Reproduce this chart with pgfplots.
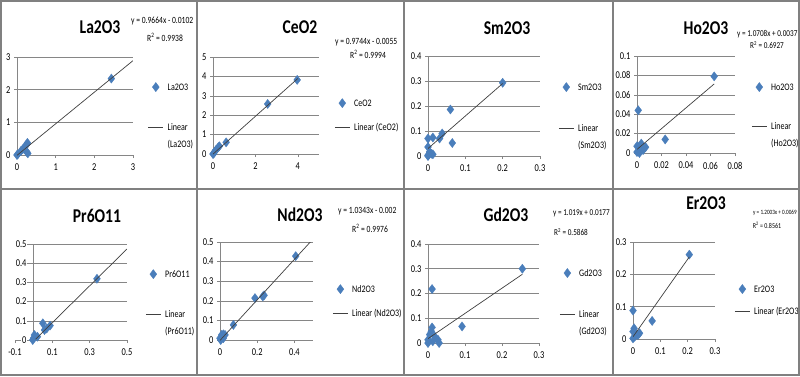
\documentclass[border=0pt]{standalone}
\usepackage{pgfplots}
\pgfplotsset{compat=1.18}
\usepackage{fontspec}
\setmainfont{Carlito}[FakeStretch=0.8]

\definecolor{mk}{HTML}{4A7EBB}
\definecolor{axc}{HTML}{868686}
\definecolor{frm}{HTML}{808080}

\newcommand\LL[1]{{\def\arraystretch{1.4}\begin{tabular}[t]{@{}l@{}}Linear\\#1\end{tabular}}}
\newcommand\Rsq{R\textsuperscript{2}}

\pgfplotsset{
  panel/.style={
    scale only axis, axis lines*=left,
    axis line style={axc, line width=0.8pt},
    ymajorgrids, grid style={axc, line width=0.6pt},
    tick style={axc, line width=0.6pt}, major tick length=3pt, tick align=outside,
    ymin=0, clip mode=individual, scaled ticks=false,
    tick label style={font=\fontsize{10.5}{12}\selectfont},
    xticklabel style={yshift=-2.5pt},
    /pgf/number format/assume math mode=true,
    legend style={draw=none, fill=none, inner sep=0pt, outer sep=0pt, anchor=north west,
      column sep=4pt, font=\fontsize{10}{12}\selectfont, cells={anchor=base west}, nodes={inner sep=0pt}},
  },
  pts/.style={only marks, mark=diamond*, mark size=4.6pt, mark options={fill=mk, draw=mk, line width=0.3pt},
    legend image code/.code={\draw[##1, mark repeat=2, mark phase=2] plot coordinates {(0pt,3.3pt)(7.5pt,3.3pt)(15pt,3.3pt)};}},
  trend/.style={black!75, line width=0.7pt, mark=none,
    legend image code/.code={\draw[##1] (0pt,3.3pt) -- (15pt,3.3pt);}},
}

\begin{document}
\begin{tikzpicture}
\path[use as bounding box, fill=white] (0pt,0pt) rectangle (800pt,-376pt);

% ---------- La2O3
\begin{axis}[panel, at={(17pt,-155pt)}, anchor=south west, width=116pt, height=98pt,
  xmin=0, xmax=3, ymax=3, xtick={0,1,2,3}, xticklabels={0,1,2,3}, ytick={0,1,2,3}, yticklabels={0,1,2,3},
  legend style={at={(axis description cs:1.129,0.740)}, row sep=27pt}]
\addplot[pts] coordinates {(0,0) (0.02,0.02) (0.1,0.12) (0.15,0.18) (0.2,0.25) (0.25,0.32) (0.27,0.37) (0.25,0.1) (0.28,0.05) (2.44,2.34)};
\addlegendentry{La2O3}
\addplot[trend] coordinates {(0,-0.0102) (3,2.889)};
\addlegendentry{\LL{(La2O3)}}
\end{axis}

% ---------- CeO2
\begin{axis}[panel, at={(213pt,-154pt)}, anchor=south west, width=106pt, height=97pt,
  xmin=0, xmax=5, ymax=5, xtick={0,2,4}, xticklabels={0,2,4}, ytick={0,1,2,3,4,5}, yticklabels={0,1,2,3,4,5},
  legend style={at={(axis description cs:1.146,0.572)}, row sep=15.3pt}]
\addplot[pts] coordinates {(0,0) (0.03,0.02) (0.08,0.12) (0.15,0.22) (0.25,0.35) (0.3,0.4) (0.62,0.6) (2.58,2.58) (3.97,3.82)};
\addlegendentry{CeO2}
\addplot[trend] coordinates {(0,-0.0055) (4,3.892)};
\addlegendentry{Linear (CeO2)}
\end{axis}

% ---------- Sm2O3
\begin{axis}[panel, at={(428pt,-156pt)}, anchor=south west, width=112pt, height=100pt,
  xmin=0, xmax=0.3, ymax=0.4, xtick={0,0.1,0.2,0.3}, xticklabels={0,0.1,0.2,0.3},
  ytick={0,0.1,0.2,0.3,0.4}, yticklabels={0,0.1,0.2,0.3,0.4},
  legend style={at={(axis description cs:1.165,0.735)}, row sep=28pt}]
\addplot[pts] coordinates {(0,0) (0,0.003) (0,0.036) (0,0.07) (0.004,0.016) (0.009,0.009) (0.013,0.074) (0.013,0.007) (0.031,0.07) (0.038,0.09) (0.06,0.186) (0.065,0.052) (0.2,0.293)};
\addlegendentry{Sm2O3}
\addplot[trend] coordinates {(0,0.03) (0.2,0.29)};
\addlegendentry{\LL{(Sm2O3)}}
\end{axis}

% ---------- Ho2O3
\begin{axis}[panel, at={(637pt,-153pt)}, anchor=south west, width=98pt, height=97pt,
  xmin=0, xmax=0.08, ymax=0.1, xtick={0,0.02,0.04,0.06,0.08}, xticklabels={0,0.02,0.04,0.06,0.08},
  ytick={0,0.02,0.04,0.06,0.08,0.1}, yticklabels={0,0.02,0.04,0.06,0.08,0.1},
  legend style={at={(axis description cs:1.168,0.727)}, row sep=26pt}]
\addplot[pts] coordinates {(0.001,0.044) (0.063,0.079) (0.023,0.014) (0,0.001) (0.001,0.006) (0.0035,0.0097) (0.005,0.003) (0.007,0.006) (0.002,0) (0,0.007)};
\addlegendentry{Ho2O3}
\addplot[trend] coordinates {(0,0.0037) (0.063,0.0712)};
\addlegendentry{\LL{(Ho2O3)}}
\end{axis}

% ---------- Pr6O11
\begin{axis}[panel, axis x line*=bottom, axis y line*=middle, hide obscured x ticks=false, hide obscured y ticks=false,
  at={(15pt,-340pt)}, anchor=south west, width=112pt, height=96pt,
  xmin=-0.1, xmax=0.5, ymax=0.5, xtick={-0.1,0.1,0.3,0.5}, xticklabels={-0.1,0.1,0.3,0.5},
  ytick={0,0.1,0.2,0.3,0.4,0.5}, yticklabels={0,0.1,0.2,0.3,0.4,0.5},
  yticklabel style={fill=white, inner sep=1pt, xshift=-3pt},
  legend style={at={(axis description cs:1.165,0.734)}, row sep=27pt}]
\addplot[pts] coordinates {(0.339,0.319) (0.049,0.087) (0.058,0.052) (0.088,0.075) (0.07,0.06) (-0.001,0.009) (0.004,0.026) (0.02,0.017) (-0.005,0)};
\addlegendentry{Pr6O11}
\addplot[trend] coordinates {(0.01,0.004) (0.5,0.474)};
\addlegendentry{\LL{(Pr6O11)}}
\end{axis}

% ---------- Nd2O3
\begin{axis}[panel, at={(220pt,-340pt)}, anchor=south west, width=93pt, height=98pt,
  xmin=0, xmax=0.5, ymax=0.5, xtick={0,0.2,0.4}, xticklabels={0,0.2,0.4},
  ytick={0,0.1,0.2,0.3,0.4,0.5}, yticklabels={0,0.1,0.2,0.3,0.4,0.5},
  legend style={at={(axis description cs:1.210,0.566)}, row sep=15.3pt}]
\addplot[pts] coordinates {(0.407,0.428) (0.237,0.228) (0.23,0.222) (0.188,0.214) (0.072,0.077) (0,0.009) (0.009,0.026) (0.018,0.029) (0.027,0.026) (0.004,0) (0.018,0.009)};
\addlegendentry{Nd2O3}
\addplot[trend] coordinates {(0,-0.002) (0.5,0.515)};
\addlegendentry{Linear (Nd2O3)}
\end{axis}

% ---------- Gd2O3
\begin{axis}[panel, at={(428pt,-343pt)}, anchor=south west, width=111pt, height=99pt,
  xmin=0, xmax=0.3, ymax=0.4, xtick={0,0.1,0.2,0.3}, xticklabels={0,0.1,0.2,0.3},
  ytick={0,0.1,0.2,0.3,0.4}, yticklabels={0,0.1,0.2,0.3,0.4},
  legend style={at={(axis description cs:1.185,0.753)}, row sep=28pt}]
\addplot[pts] coordinates {(0.011,0.218) (0.092,0.067) (0.255,0.3) (0,0.013) (0.0045,0.034) (0.011,0.063) (0.009,0.047) (0.018,0.027) (0.027,0.013) (0.03,0) (0.013,0.007) (0,0)};
\addlegendentry{Gd2O3}
\addplot[trend] coordinates {(0,0.0177) (0.255,0.2776)};
\addlegendentry{\LL{(Gd2O3)}}
\end{axis}

% ---------- Er2O3
\begin{axis}[panel, at={(633pt,-339pt)}, anchor=south west, width=82pt, height=97pt,
  xmin=0, xmax=0.3, ymax=0.3, xtick={0,0.1,0.2,0.3}, xticklabels={0,0.1,0.2,0.3},
  ytick={0,0.1,0.2,0.3}, yticklabels={0,0.1,0.2,0.3},
  legend style={at={(axis description cs:1.238,0.562)}, row sep=13.3pt}]
\addplot[pts] coordinates {(0.206,0.261) (0.07,0.056) (0,0.088) (0,0.002) (0.004,0.033) (0.01,0.018) (0.018,0.012) (0.024,0.018) (0.006,0.007) (0,0.023)};
\addlegendentry{Er2O3}
\addplot[trend] coordinates {(0,0.0069) (0.206,0.254)};
\addlegendentry{Linear (Er2O3)}
\end{axis}

% ---------- texts
\tikzset{ttl/.style={font=\fontsize{19.5}{21}\selectfont\bfseries, inner sep=0pt},
         eq/.style={font=\fontsize{9.5}{10}\selectfont, inner sep=0pt}}
\begin{scope}
\clip (0pt,0pt) rectangle (197pt,-189pt);
\node[ttl] at (100pt,-27pt) {La2O3};
\node[eq, anchor=west] at (131pt,-21pt) {y = 0.9664x - 0.0102};
\node[eq] at (165pt,-37pt) {\Rsq{} = 0.9938};
\end{scope}
\begin{scope}
\clip (197pt,0pt) rectangle (404pt,-189pt);
\node[ttl] at (300pt,-27pt) {CeO2};
\node[eq, anchor=west] at (335pt,-42pt) {y = 0.9744x - 0.0055};
\node[eq] at (368pt,-54pt) {\Rsq{} = 0.9994};
\end{scope}
\node[ttl] at (507pt,-28pt) {Sm2O3};
\begin{scope}
\clip (613pt,0pt) rectangle (800pt,-189pt);
\node[ttl] at (706pt,-28pt) {Ho2O3};
\node[eq, font=\fontsize{9}{10}\selectfont, anchor=west] at (737pt,-34pt) {y = 1.0708x + 0.0037};
\node[eq, font=\fontsize{9}{10}\selectfont] at (767pt,-45pt) {\Rsq{} = 0.6927};
\end{scope}
\node[ttl] at (97pt,-216pt) {Pr6O11};
\begin{scope}
\clip (197pt,-189pt) rectangle (404pt,-376pt);
\node[ttl] at (300pt,-215pt) {Nd2O3};
\node[eq, anchor=west] at (338pt,-211pt) {y = 1.0343x - 0.002};
\node[eq] at (370pt,-228pt) {\Rsq{} = 0.9976};
\end{scope}
\begin{scope}
\clip (404pt,-189pt) rectangle (613pt,-376pt);
\node[ttl] at (506pt,-215pt) {Gd2O3};
\node[eq, font=\fontsize{9}{10}\selectfont, anchor=west] at (553pt,-213pt) {y = 1.019x + 0.0177};
\node[eq, font=\fontsize{9}{10}\selectfont] at (571pt,-232pt) {\Rsq{} = 0.5868};
\end{scope}
\begin{scope}
\clip (613pt,-189pt) rectangle (800pt,-376pt);
\node[ttl] at (706pt,-203pt) {Er2O3};
\node[eq, font=\fontsize{6.5}{8}\selectfont, anchor=west] at (753pt,-213pt) {y = 1.2003x + 0.0069};
\node[eq, font=\fontsize{7.5}{8}\selectfont] at (767pt,-225pt) {\Rsq{} = 0.8561};
\end{scope}

% ---------- frames
\draw[frm, line width=2pt] (1pt,-1pt) rectangle (799pt,-375pt);
\draw[frm, line width=2pt] (0pt,-189pt) -- (800pt,-189pt);
\draw[frm, line width=2pt] (197pt,0pt) -- (197pt,-376pt);
\draw[frm, line width=2pt] (404pt,0pt) -- (404pt,-376pt);
\draw[frm, line width=2pt] (613pt,0pt) -- (613pt,-376pt);
\end{tikzpicture}
\end{document}
